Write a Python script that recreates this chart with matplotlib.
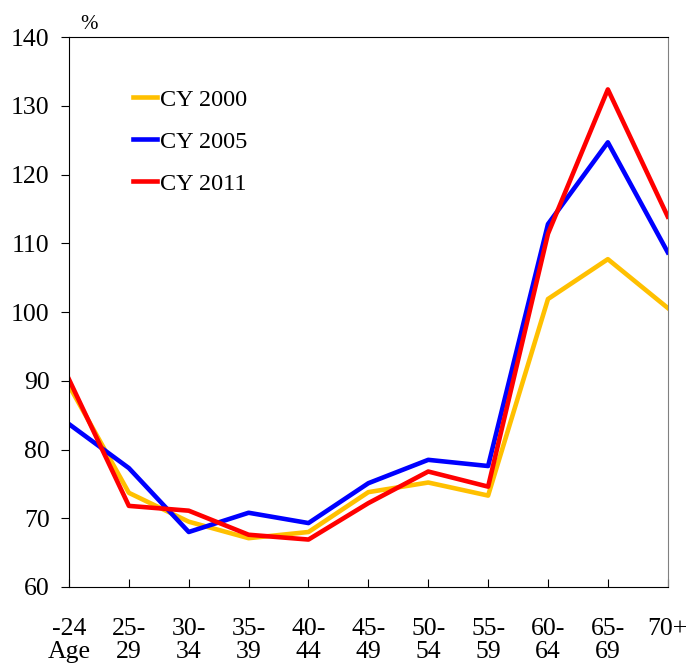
import matplotlib.pyplot as plt

plt.rcParams['font.family'] = ['Liberation Serif', 'DejaVu Serif']

# age groups on the x axis
age_labels = ["-24\nAge", "25-\n29", "30-\n34", "35-\n39", "40-\n44", "45-\n49",
              "50-\n54", "55-\n59", "60-\n64", "65-\n69", "70+\n"]

# values in % by calendar year
cy2000 = [89.3, 73.7, 69.5, 67.1, 68.0, 73.8, 75.2, 73.3, 101.9, 107.7, 100.6]
cy2005 = [83.7, 77.3, 68.0, 70.8, 69.3, 75.1, 78.5, 77.6, 112.8, 124.7, 108.7]
cy2011 = [90.2, 71.8, 71.1, 67.6, 66.9, 72.2, 76.8, 74.6, 111.4, 132.4, 113.9]

fig = plt.figure(figsize=(6.97, 6.64), dpi=100)
ax = fig.add_axes([0.099, 0.116, 0.859, 0.828])

x = list(range(len(age_labels)))
ax.plot(x, cy2000, color="#FFC000", lw=3.3, label="CY 2000")
ax.plot(x, cy2005, color="#0000FF", lw=3.3, label="CY 2005")
ax.plot(x, cy2011, color="#FF0000", lw=3.3, label="CY 2011")

ax.set_xlim(0, 10)
ax.set_ylim(60, 140)
ax.set_yticks(range(60, 141, 10))
ax.set_xticks(x)
ax.set_xticklabels(age_labels, fontsize=18.5, linespacing=1.1)
ax.tick_params(axis="x", direction="in", length=6, pad=22)
ax.tick_params(axis="y", direction="out", length=6, labelsize=18.5, pad=8)
ax.spines["right"].set_color("#808080")

ax.text(0.018, 1.006, "%", transform=ax.transAxes, fontsize=15, va="bottom")

ax.legend(loc="upper left", bbox_to_anchor=(0.07, 0.946), frameon=False,
          fontsize=17.5, handlelength=1.0, handletextpad=0.1, labelspacing=0.82)

fig.savefig("out.png", dpi=100)
